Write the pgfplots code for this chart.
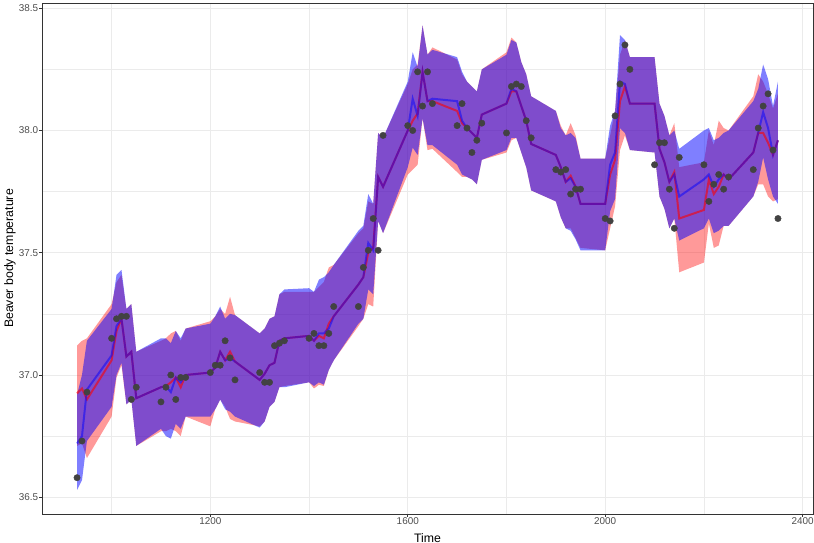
\documentclass[border=0pt]{standalone}
\usepackage{fontspec}
\setmainfont{Liberation Sans}
\usepackage{pgfplots}
\usepackage{pgfplotstable}
\pgfplotsset{compat=1.18}
\usepgfplotslibrary{fillbetween}
\definecolor{tickgray}{HTML}{4D4D4D}
\definecolor{gridgray}{HTML}{EBEBEB}
\definecolor{bordercol}{HTML}{333333}
\definecolor{ptcol}{HTML}{424242}

\pgfplotstableread{
t obs fR loR hiR fB loB hiB
930 36.58 36.925 36.71 37.12 36.72 36.53 36.92
940 36.73 36.945 36.72 37.14 36.75 36.57 37.00
950 36.93 36.90 36.66 37.15 36.94 36.73 37.14
1000 37.15 37.06 36.83 37.29 37.08 36.87 37.27
1010 37.23 37.18 36.99 37.38 37.20 37.00 37.41
1020 37.24 37.23 37.04 37.41 37.23 37.05 37.43
1030 37.24 37.075 36.88 37.27 37.075 36.88 37.27
1040 36.90 37.095 36.90 37.29 37.095 36.90 37.29
1050 36.95 36.905 36.71 37.095 36.905 36.71 37.095
1100 36.89 36.95 36.77 37.14 36.95 36.78 37.15
1110 36.95 36.955 36.77 37.15 36.955 36.75 37.15
1120 37.00 36.97 36.78 37.17 36.93 36.74 37.13
1130 36.90 36.99 36.77 37.18 36.99 36.80 37.18
1140 36.99 36.95 36.75 37.14 36.97 36.78 37.15
1150 36.99 37.00 36.83 37.19 37.00 36.83 37.19
1200 37.01 37.01 36.79 37.22 37.01 36.83 37.21
1210 37.04 37.03 36.86 37.24 37.03 36.86 37.24
1220 37.04 37.095 36.90 37.27 37.095 36.90 37.28
1230 37.14 37.06 36.87 37.25 37.06 36.86 37.23
1240 37.07 37.095 36.82 37.32 37.07 36.85 37.25
1250 36.98 37.055 36.81 37.245 37.055 36.83 37.245
1300 37.01 36.98 36.79 37.17 36.98 36.785 37.17
1310 36.97 37.005 36.81 37.19 37.005 36.81 37.19
1320 36.97 37.04 36.87 37.23 37.04 36.87 37.23
1330 37.12 37.05 36.89 37.24 37.05 36.89 37.24
1340 37.13 37.14 36.95 37.33 37.14 36.95 37.33
1350 37.14 37.15 36.955 37.34 37.15 36.95 37.35
1400 37.15 37.16 36.97 37.34 37.16 36.97 37.355
1410 37.17 37.14 36.945 37.34 37.14 36.955 37.34
1420 37.12 37.16 36.96 37.36 37.17 36.97 37.39
1430 37.12 37.15 36.955 37.38 37.17 36.96 37.40
1440 37.17 37.21 37.02 37.44 37.19 37.02 37.42
1450 37.28 37.24 37.06 37.45 37.24 37.06 37.45
1500 37.28 37.37 37.20 37.58 37.37 37.21 37.59
1510 37.44 37.40 37.23 37.60 37.40 37.23 37.61
1520 37.51 37.50 37.29 37.71 37.54 37.35 37.74
1530 37.64 37.52 37.28 37.70 37.51 37.33 37.70
1540 37.51 37.81 37.63 37.99 37.81 37.63 37.99
1550 37.98 37.77 37.58 37.97 37.77 37.58 37.97
1600 38.02 38.00 37.82 38.19 38.00 37.85 38.20
1610 38.00 38.04 37.84 38.25 38.13 37.93 38.32
1620 38.24 38.07 37.86 38.27 38.06 37.90 38.26
1630 38.10 38.24 38.05 38.43 38.24 38.05 38.43
1640 38.24 38.12 37.92 38.31 38.12 37.94 38.31
1650 38.11 38.12 37.925 38.34 38.13 37.94 38.33
1700 38.02 38.08 37.83 38.29 38.12 37.86 38.30
1710 38.11 38.03 37.81 38.23 38.04 37.82 38.24
1720 38.01 38.01 37.81 38.20 38.01 37.81 38.20
1730 37.91 37.99 37.80 38.18 37.99 37.80 38.18
1740 37.96 37.97 37.78 38.16 37.97 37.78 38.16
1750 38.03 38.065 37.88 38.25 38.065 37.88 38.25
1800 37.99 38.11 37.91 38.32 38.11 37.92 38.31
1810 38.18 38.16 37.96 38.38 38.17 37.97 38.37
1820 38.19 38.16 37.97 38.36 38.16 37.97 38.36
1830 38.18 38.10 37.91 38.28 38.10 37.91 38.28
1840 38.04 38.04 37.85 38.23 38.04 37.85 38.23
1850 37.97 37.945 37.755 38.14 37.945 37.755 38.14
1900 37.84 37.90 37.71 38.08 37.90 37.71 38.08
1910 37.83 37.85 37.645 38.02 37.85 37.645 38.01
1920 37.84 37.79 37.60 37.98 37.79 37.60 37.98
1930 37.74 37.815 37.60 38.03 37.805 37.59 37.99
1940 37.76 37.77 37.56 37.98 37.77 37.555 37.97
1950 37.76 37.70 37.52 37.885 37.70 37.51 37.885
2000 37.64 37.70 37.51 37.885 37.70 37.51 37.885
2010 37.63 37.82 37.60 37.98 37.86 37.67 38.02
2020 38.06 37.88 37.69 38.08 37.91 37.72 38.08
2030 38.19 38.12 37.92 38.31 38.20 38.01 38.39
2040 38.35 38.18 37.98 38.37 38.19 37.99 38.37
2050 38.25 38.11 37.92 38.30 38.11 37.92 38.30
2100 37.86 38.11 37.91 38.30 38.11 37.91 38.30
2110 37.95 37.925 37.73 38.11 37.925 37.73 38.11
2120 37.95 37.87 37.68 38.06 37.87 37.68 38.06
2130 37.76 37.79 37.60 37.98 37.79 37.60 37.98
2140 37.60 37.83 37.64 38.03 37.82 37.64 38.00
2150 37.89 37.64 37.42 37.85 37.73 37.55 37.925
2200 37.86 37.675 37.46 37.87 37.80 37.60 38.00
2210 37.71 37.80 37.62 38.00 37.82 37.64 38.01
2220 37.78 37.74 37.52 37.94 37.77 37.58 37.96
2230 37.82 37.77 37.53 38.04 37.80 37.59 37.97
2240 37.76 37.82 37.61 38.01 37.82 37.61 37.99
2250 37.81 37.80 37.61 38.00 37.80 37.61 38.00
2300 37.84 37.91 37.73 38.14 37.91 37.73 38.12
2310 38.01 37.99 37.78 38.23 37.99 37.79 38.17
2320 38.10 37.99 37.78 38.20 38.075 37.89 38.27
2330 38.15 37.95 37.73 38.15 38.01 37.80 38.21
2340 37.92 37.90 37.71 38.09 37.90 37.73 38.10
2350 37.64 37.96 37.72 38.15 37.96 37.70 38.20
}\beaver

\begin{document}
\begin{tikzpicture}
\begin{axis}[
  name=ax,
  scale only axis, width=771bp, height=511bp,
  xmin=859, xmax=2421, ymin=36.4315, ymax=38.5215,
  xtick={1200,1600,2000,2400}, minor xtick={1000,1400,1800,2200},
  xticklabels={1200,1600,2000,2400},
  ytick={36.5,37,37.5,38,38.5}, minor ytick={36.75,37.25,37.75,38.25},
  yticklabels={36.5,37.0,37.5,38.0,38.5},
  xtick pos=bottom, ytick pos=left,
  /pgf/number format/assume math mode=true,
  grid=both,
  major grid style={gridgray, line width=1bp},
  minor grid style={gridgray, line width=0.5bp},
  axis line style={bordercol, line width=0.9bp},
  tick align=outside,
  major tick length=2.75bp, minor tick length=0pt,
  tick style={bordercol, line width=0.9bp},
  ticklabel style={font=\fontsize{9.9bp}{11bp}\selectfont, text=tickgray},
  xticklabel style={inner sep=0pt, anchor=north, yshift=-0.5bp},
  yticklabel style={inner sep=0pt, anchor=east, xshift=-1bp},
  xlabel={Time}, ylabel={Beaver body temperature},
  label style={font=\fontsize{12.3bp}{14bp}\selectfont, text=black},
  xlabel style={at={(axis description cs:0.5,-0.0548)}, anchor=base},
  ylabel style={at={(axis description cs:-0.0376,0.5)}, anchor=base, rotate=0},
]
\addplot[name path=rhi, draw=none, forget plot] table[x=t,y=hiR]{\beaver};
\addplot[name path=rlo, draw=none, forget plot] table[x=t,y=loR]{\beaver};
\addplot[fill=red, fill opacity=0.4, draw=none, forget plot] fill between[of=rhi and rlo];
\addplot[name path=bhi, draw=none, forget plot] table[x=t,y=hiB]{\beaver};
\addplot[name path=blo, draw=none, forget plot] table[x=t,y=loB]{\beaver};
\addplot[fill=blue, fill opacity=0.5, draw=none, forget plot] fill between[of=bhi and blo];
\addplot[red, line width=2bp, draw opacity=0.6, no marks] table[x=t,y=fR]{\beaver};
\addplot[blue, line width=2bp, draw opacity=0.5, no marks] table[x=t,y=fB]{\beaver};
\addplot[only marks, mark=*, mark size=3.2bp, ptcol, mark options={draw=ptcol, fill=ptcol}] table[x=t,y=obs]{\beaver};
\end{axis}
\pgfresetboundingbox
\path ([shift={(-42bp,-29bp)}]ax.south west) rectangle ([shift={(1bp,3bp)}]ax.north east);
\end{tikzpicture}
\end{document}
